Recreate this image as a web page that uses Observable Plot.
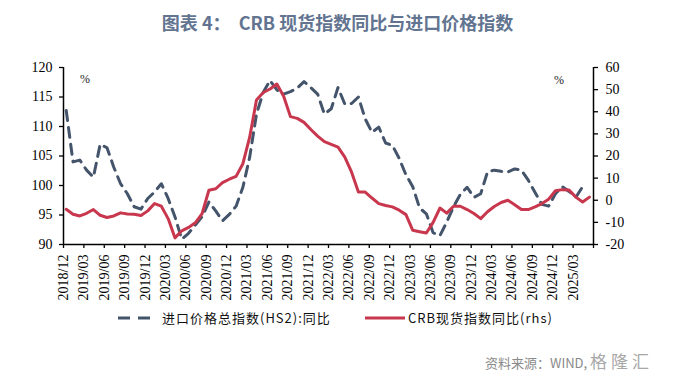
<!DOCTYPE html>
<html><head><meta charset="utf-8">
<script src="https://cdn.jsdelivr.net/npm/d3@7"></script>
<script src="https://cdn.jsdelivr.net/npm/@observablehq/plot@0.6"></script>
<style>
body{margin:0;background:#fff;}
#wrap{position:relative;width:675px;height:386px;overflow:hidden;font-family:"Noto Sans CJK SC","Noto Sans",sans-serif;}
#title{position:absolute;top:9px;left:0;width:675px;text-align:center;font-size:18px;font-weight:bold;color:#627490;white-space:pre;line-height:26px;}
#chart{position:absolute;top:44px;left:0;}
.pct{position:absolute;font-family:"Liberation Serif",serif;font-size:12px;color:#222;line-height:12px;}
#legend{position:absolute;top:305px;left:0;width:675px;height:26px;}
.lt{position:absolute;top:4px;font-size:13px;letter-spacing:1px;color:#111;line-height:18px;}
#source{position:absolute;left:485px;top:350px;font-size:13px;color:#8a8a8a;line-height:22px;white-space:pre;}
#source span{font-size:17px;color:#a8a8a8;letter-spacing:4px;}
</style></head>
<body>
<div id="wrap">
  <div id="title">图表 4：  CRB 现货指数同比与进口价格指数</div>
  <div id="chart"></div>
  <div class="pct" style="left:80px;top:73px;">%</div>
  <div class="pct" style="left:554px;top:74px;">%</div>
  <div id="legend">
    <svg width="675" height="26" style="position:absolute;left:0;top:0">
      <line x1="118" x2="150" y1="13" y2="13" stroke="#44546a" stroke-width="3" stroke-dasharray="12,8"/>
      <line x1="365" x2="405" y1="13" y2="13" stroke="#c8374d" stroke-width="3"/>
    </svg>
    <div class="lt" style="left:162px;">进口价格总指数(HS2):同比</div>
    <div class="lt" style="left:408px;">CRB现货指数同比(rhs)</div>
  </div>
  <div id="source">资料来源：WIND, <span>格隆汇</span></div>
</div>
<script>
// Months 2018/12 .. 2025/05 (categories)
const months = d3.utcMonth.range(new Date(Date.UTC(2018, 11, 1)), new Date(Date.UTC(2025, 5, 1)));

// 进口价格总指数(HS2):同比 — left axis (index, prior year = 100)
const importIndex = [
  112.7, 104.0, 104.3, 102.6, 101.4, 107.0, 106.4, 103.1, 100.3, 98.6,
  96.4, 96.0, 97.8, 98.9, 100.3, 97.8, 94.7, 90.9, 91.9, 93.3,
  94.7, 97.2, 95.7, 94.0, 95.1, 96.5, 99.7, 104.8, 112.1, 115.8,
  117.8, 116.2, 115.5, 115.9, 116.5, 117.6, 116.6, 115.5, 112.1, 113.0,
  116.6, 113.8, 113.9, 115.0, 111.3, 109.0, 109.9, 107.2, 106.8, 104.6,
  101.8, 99.8, 96.2, 95.2, 92.0, 91.5, 93.8, 96.4, 98.5, 99.7,
  98.0, 98.6, 102.3, 102.6, 102.4, 102.3, 102.8, 102.6, 100.9, 98.8,
  96.8, 96.5, 98.6, 99.8, 99.0, 98.0, 99.8
];

// CRB现货指数同比 (rhs, %)
const crbYoY = [
  -4.1, -6.3, -7.1, -5.9, -4.2, -6.8, -7.8, -7.1, -5.7, -6.2,
  -6.3, -6.9, -4.8, -1.5, -2.7, -8.3, -17.0, -13.8, -12.3, -10.2,
  -6.0, 4.5, 5.2, 8.0, 9.5, 10.8, 16.5, 28.5, 45.3, 48.7,
  50.3, 52.5, 47.0, 37.8, 37.0, 35.2, 32.0, 29.0, 26.5, 25.3,
  24.0, 19.5, 12.7, 3.7, 3.7, 1.0, -1.5, -2.4, -3.0, -4.5,
  -6.5, -13.6, -14.2, -14.8, -10.0, -3.5, -5.8, -2.7, -2.7, -4.2,
  -6.0, -8.3, -5.2, -2.8, -1.0, 0.0, -2.0, -4.2, -4.2, -3.0,
  -1.5, 0.5, 4.3, 4.8, 4.6, 1.4, -0.8, 1.4
];

const xTickLabels = [
  "2018/12","2019/03","2019/06","2019/09","2019/12","2020/03","2020/06","2020/09","2020/12",
  "2021/03","2021/06","2021/09","2021/12","2022/03","2022/06","2022/09","2022/12",
  "2023/03","2023/06","2023/09","2023/12","2024/03","2024/06","2024/09","2024/12","2025/03"
];
const leftTicks = [90, 95, 100, 105, 110, 115, 120];
const rightTicks = [-20, -10, 0, 10, 20, 30, 40, 50, 60];

const leftDomain = [90, 120];
const rightDomain = [-20, 60];
const toLeft = r => leftDomain[0] + (r - rightDomain[0]) * (leftDomain[1] - leftDomain[0]) / (rightDomain[1] - rightDomain[0]);
const toRight = l => rightDomain[0] + (l - leftDomain[0]) * (rightDomain[1] - rightDomain[0]) / (leftDomain[1] - leftDomain[0]);

const slot = 0.4; // position of a month's point inside its slot
const nSlots = months.length; // 78
const xTicks = d3.range(0, nSlots + 1, 3);

const impData = importIndex.map((v, i) => ({x: i + slot, v}));
const crbData = crbYoY.map((v, i) => ({x: i + slot, v: toLeft(v)}));

const chart = Plot.plot({
  width: 675,
  height: 262,
  marginTop: 23,
  marginBottom: 62,
  marginLeft: 63,
  marginRight: 82,
  style: {fontFamily: "'Liberation Serif', 'Times New Roman', serif", fontSize: "14px", color: "#000", background: "transparent", overflow: "visible"},
  x: {domain: [0, nSlots]},
  y: {domain: leftDomain},
  marks: [
    Plot.line(impData, {x: "x", y: "v", stroke: "#44546a", strokeWidth: 3, strokeDasharray: "10,7"}),
    Plot.line(crbData, {x: "x", y: "v", stroke: "#c8374d", strokeWidth: 3}),
    Plot.axisY(leftTicks, {anchor: "left", tickSize: 4, tickPadding: 7, label: null, stroke: "#000", strokeWidth: 1.3}),
    Plot.axisY(rightTicks.map(toLeft), {anchor: "right", tickSize: 4, tickPadding: 8, label: null, stroke: "#000", strokeWidth: 1.3,
      tickFormat: d => String(Math.round(toRight(d)))}),
    Plot.axisX(xTicks, {anchor: "bottom", tickSize: 4, tickPadding: 6, tickRotate: -90, label: null, stroke: "#000", strokeWidth: 1.3,
      tickFormat: d => xTickLabels[d / 3] ?? ""}),
    Plot.ruleX([0, nSlots], {stroke: "#000", strokeWidth: 1.5}),
    Plot.ruleY([leftDomain[0]], {stroke: "#000", strokeWidth: 1.5})
  ]
});
document.getElementById("chart").appendChild(chart);
</script>
</body></html>
